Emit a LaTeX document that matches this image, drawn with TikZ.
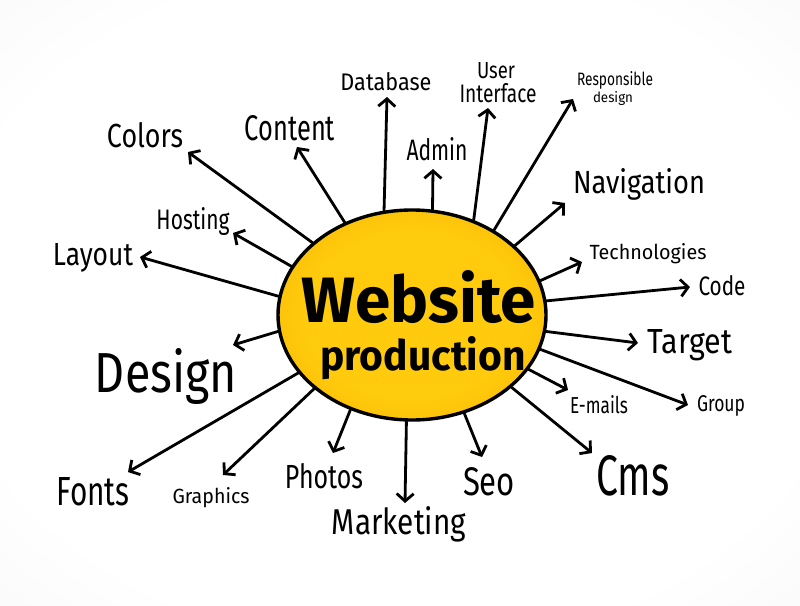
\documentclass[tikz,border=0pt]{standalone}
\usepackage{fontspec}
\setmainfont{Fira Sans}
\usetikzlibrary{arrows.meta,shapes.geometric}
\definecolor{ballin}{HTML}{FFCB0C}
\definecolor{ballout}{HTML}{F0A000}
\pgfdeclareradialshading{bgshade}{\pgfpoint{0bp}{0bp}}{color(0bp)=(white); color(28bp)=(white); color(50bp)=(black!5); color(72bp)=(black!11)}
\pgfdeclareradialshading{ballshade}{\pgfpoint{0bp}{0bp}}{color(0bp)=(ballin); color(20bp)=(ballin); color(50bp)=(ballout)}
\newcommand\lbl[3]{\resizebox{#1pt}{#2pt}{#3}}
\tikzset{
  arr/.style={line width=2.8pt, line cap=round, line join=round,
    -{Straight Barb[length=7.5pt,width=17pt,line width=2.8pt]}},
  lab/.style={inner sep=0pt, text=black, anchor=base},
}
\begin{document}
\begin{tikzpicture}[x=1pt,y=-1pt]
\useasboundingbox (0,0) rectangle (800,605);
\shade[shading=bgshade] (0,0) rectangle (800,605);
% centre
\node[ellipse, draw=black, line width=3.4pt, minimum width=268pt, minimum height=210pt,
      inner sep=0pt, shading=ballshade] (c) at (412,315) {};
\node[lab] (w) at (419,322) {\lbl{234}{52}{\bfseries Website}};
\node[lab] (p) at (423,370) {\lbl{205}{34}{\bfseries production}};
% tips
\coordinate (tDatabase) at (387,97);
\coordinate (tColors) at (188,152);
\coordinate (tContent) at (297,147);
\coordinate (tHosting) at (233,233);
\coordinate (tLayout) at (140,257);
\coordinate (tAdmin) at (433,169);
\coordinate (tUI) at (488,108);
\coordinate (tResp) at (573,99);
\coordinate (tNav) at (565,203);
\coordinate (tTech) at (582,262);
\coordinate (tCode) at (690,287);
\coordinate (tTarget) at (638,343);
\coordinate (tGroup) at (688,405);
\coordinate (tEmails) at (568,390);
\coordinate (tCms) at (592,453);
\coordinate (tSeo) at (482,457);
\coordinate (tMarketing) at (405,503);
\coordinate (tPhotos) at (333,453);
\coordinate (tGraphics) at (223,475);
\coordinate (tFonts) at (128,472);
\coordinate (tDesign) at (233,345);
% arrows
\draw[arr] (c.105.4) -- (tDatabase);
\draw[arr] (c.144.8) -- (tColors);
\draw[arr] (c.126.3) -- (tContent);
\draw[arr] (c.158.1) -- (tHosting);
\draw[arr] (c.172.9) -- (tLayout);
\draw[arr] (c.79.4) -- (tAdmin);
\draw[arr] (c.57.8) -- (tUI);
\draw[arr] (c.46.3) -- (tResp);
\draw[arr] (c.34.6) -- (tNav);
\draw[arr] (c.15.9) -- (tTech);
\draw[arr] (c.6.3) -- (tCode);
\draw[arr] (c.-7.4) -- (tTarget);
\draw[arr] (c.-15.3) -- (tGroup);
\draw[arr] (c.-25) -- (tEmails);
\draw[arr] (c.-36.1) -- (tCms);
\draw[arr] (c.-62.5) -- (tSeo);
\draw[arr] (c.-93.8) -- (tMarketing);
\draw[arr] (c.237) -- (tPhotos);
\draw[arr] (c.217.1) -- (tGraphics);
\draw[arr] (c.207.9) -- (tFonts);
\draw[arr] (c.187.6) -- (tDesign);
% labels (anchored at baseline)
\node[lab] (Database) at (386,90) {\lbl{91}{18}{Database}};
\node[lab] (Colors) at (145,147) {\lbl{76}{25}{Colors}};
\node[lab] (Content) at (290,140) {\lbl{90}{25}{Content}};
\node[lab] (Hosting) at (193,229) {\lbl{73}{22}{Hosting}};
\node[lab] (Layout) at (93,265) {\lbl{80}{22}{Layout}};
\node[lab] (Admin) at (437,160) {\lbl{61}{23}{Admin}};
\node[lab] (User) at (496,78) {\lbl{38}{16}{User}};
\node[lab] (Interface) at (498,102) {\lbl{77}{19}{Interface}};
\node[lab] (Responsible) at (615,85) {\lbl{76}{14}{Responsible}};
\node[lab] (design) at (613,102) {\lbl{40}{11}{design}};
\node[lab] (Navigation) at (639,193) {\lbl{132}{25}{Navigation}};
\node[lab] (Technologies) at (648,259) {\lbl{117}{16}{Technologies}};
\node[lab] (Code) at (722,295) {\lbl{47}{20}{Code}};
\node[lab] (Target) at (690,353) {\lbl{85}{24}{Target}};
\node[lab] (Group) at (721,411) {\lbl{48}{16}{Group}};
\node[lab] (Emails) at (599,413) {\lbl{58}{18}{E-mails}};
\node[lab] (Cms) at (633,495) {\lbl{73}{40}{Cms}};
\node[lab] (Seo) at (489,495) {\lbl{52}{28}{Seo}};
\node[lab] (Marketing) at (399,534) {\lbl{134}{28}{Marketing}};
\node[lab] (Photos) at (324,488) {\lbl{78}{25}{Photos}};
\node[lab] (Graphics) at (211,503) {\lbl{77}{16}{Graphics}};
\node[lab] (Fonts) at (93,505) {\lbl{73}{28}{Fonts}};
\node[lab] (Design) at (166,392) {\lbl{142}{44}{Design}};
\end{tikzpicture}
\end{document}
